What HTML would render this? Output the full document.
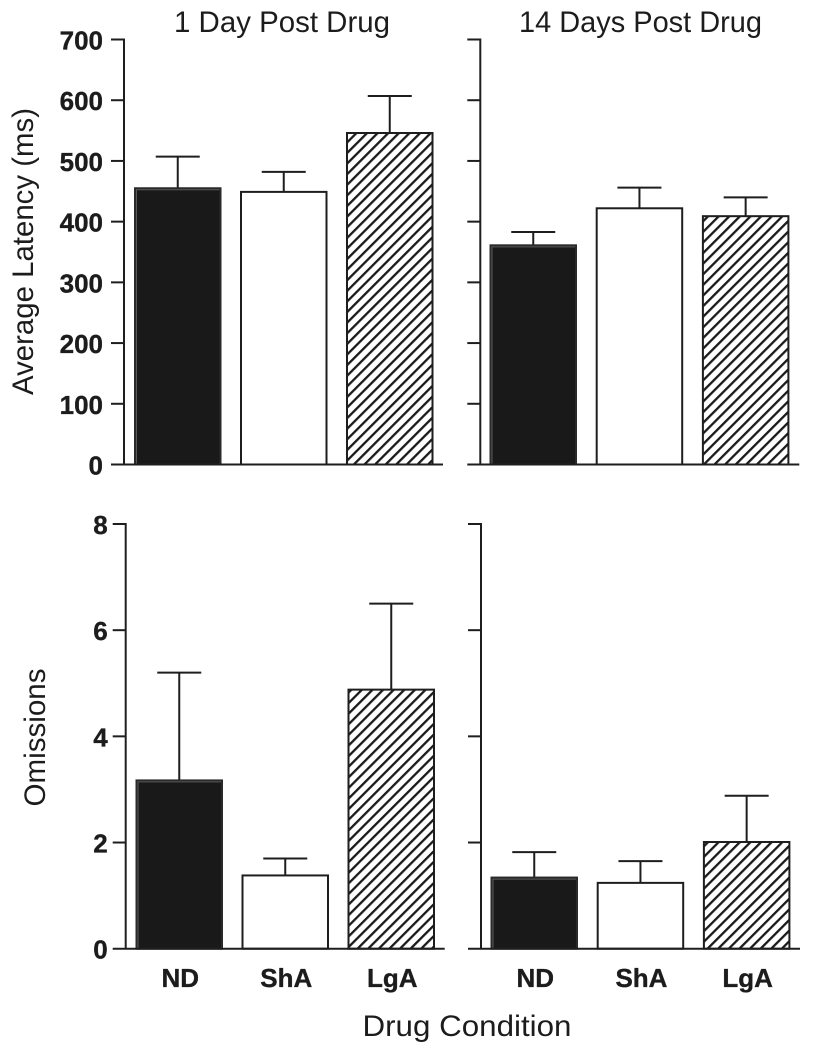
<!DOCTYPE html>
<html>
<head>
<meta charset="utf-8">
<title>Average latency and omissions by drug condition</title>
<style>
html,body{margin:0;padding:0;background:#fff;width:813px;height:1050px;overflow:hidden}
svg{display:block}
text{fill:#1c1c1c}
.tick{font:bold 26px "Liberation Sans",sans-serif;stroke:#1c1c1c;stroke-width:0.35px}
.title{font:30px "Liberation Sans",sans-serif}
</style>
</head>
<body>
<svg id="chart" xmlns="http://www.w3.org/2000/svg" width="813" height="1050" viewBox="0 0 813 1050">
<defs>
<pattern id="hatch" patternUnits="userSpaceOnUse" width="7.5" height="7.5" patternTransform="rotate(45)">
<rect width="7.5" height="7.5" fill="#fff"/>
<rect x="0" y="0" width="2.3" height="7.5" fill="#1a1a1a"/>
</pattern>
</defs>
</svg>
<script>
var categories = ['ND', 'ShA', 'LgA'];
var latencyTicks = [0, 100, 200, 300, 400, 500, 600, 700];
var omissionTicks = [0, 2, 4, 6, 8];
var latencyDay1Means = [455, 449, 546];
var latencyDay1Tops = [507, 482, 607];
var latencyDay14Means = [361, 422, 409];
var latencyDay14Tops = [383, 456, 440];
var omissionsDay1Means = [3.17, 1.38, 4.88];
var omissionsDay1Tops = [5.2, 1.7, 6.5];
var omissionsDay14Means = [1.34, 1.24, 2.01];
var omissionsDay14Tops = [1.82, 1.65, 2.88];

var NS = 'http://www.w3.org/2000/svg';
var svg = document.getElementById('chart');
var INK = '#1e1e1e';

function make(tag, attrs, parent) {
  var el = document.createElementNS(NS, tag);
  for (var k in attrs) { el.setAttribute(k, attrs[k]); }
  (parent || svg).appendChild(el);
  return el;
}
function line(x1, y1, x2, y2, parent, name) {
  var el = make('line', {x1: x1, y1: y1, x2: x2, y2: y2, stroke: INK, 'stroke-width': 2}, parent);
  
  
  return el;
}

function drawPanel(p) {
  var g = make('g', {});
  
  
  var yScale = function (v) { return p.y0 - (v / p.maxVal) * (p.y0 - p.yTop); };

  p.means.forEach(function (m, i) {
    var left = p.barLeft + i * p.barStep;
    var cx = left + p.barW / 2;
    line(cx, yScale(m), cx, yScale(p.tops[i]), g, 'error-bar-' + categories[i].toLowerCase());
    line(cx - 22, yScale(p.tops[i]), cx + 22, yScale(p.tops[i]), g, 'error-cap-' + categories[i].toLowerCase());
    var fill = i === 0 ? '#191919' : (i === 1 ? '#fff' : 'url(#hatch)');
    var r = make('rect', {x: left, y: yScale(m), width: p.barW, height: p.y0 - yScale(m), fill: fill,
      stroke: i === 0 ? '#2a2a2a' : INK, 'stroke-width': 2}, g);
    
    
    if (i === 0) {
      var hi = make('polyline', {points: (left + 1.5) + ',' + p.y0 + ' ' + (left + 1.5) + ',' + (yScale(m) + 1.5) + ' ' + (left + p.barW - 1) + ',' + (yScale(m) + 1.5),
        fill: 'none', stroke: '#5a5a5a', 'stroke-width': 1}, g);
      
      
    }
  });

  line(p.axisX, p.yTop - 1, p.axisX, p.y0, g, 'y-axis');
  line(p.axisX - 13, p.y0, p.axisX + 319, p.y0, g, 'x-axis');
  p.ticks.forEach(function (t) {
    var y = yScale(t);
    if (t !== 0) { line(p.axisX - 13, y, p.axisX, y, g, 'y-tick-' + t); }
    if (p.showTickLabels) {
      var lbl = make('text', {x: p.axisX - p.labelGap, y: y + 10, 'text-anchor': 'end', 'class': 'tick'}, g);
      
      
      lbl.textContent = t;
    }
  });
  if (p.showCategories) {
    categories.forEach(function (c, i) {
      var cx = p.barLeft + i * p.barStep + p.barW / 2 + 1;
      var lbl = make('text', {x: cx, y: 987, 'text-anchor': 'middle', 'class': 'tick'}, g);
      
      
      lbl.textContent = c;
    });
  }
}

function title(str, x, y, len, name, rotate) {
  var attrs = {x: x, y: y, 'class': 'title', textLength: len, lengthAdjust: 'spacingAndGlyphs'};
  if (rotate) { attrs.transform = 'rotate(-90 ' + x + ' ' + y + ')'; }
  var el = make('text', attrs);
  
  
  el.textContent = str;
}

drawPanel({name: 'latency-day-1-panel', means: latencyDay1Means, tops: latencyDay1Tops, ticks: latencyTicks, maxVal: 700,
  yTop: 39.5, y0: 464.5, axisX: 124, barLeft: 135, barStep: 106, barW: 85.5, showTickLabels: true, labelGap: 21, showCategories: false});
drawPanel({name: 'latency-day-14-panel', means: latencyDay14Means, tops: latencyDay14Tops, ticks: latencyTicks, maxVal: 700,
  yTop: 39.5, y0: 464.5, axisX: 480.3, barLeft: 490.5, barStep: 106.2, barW: 85.5, showTickLabels: false, showCategories: false});
drawPanel({name: 'omissions-day-1-panel', means: omissionsDay1Means, tops: omissionsDay1Tops, ticks: omissionTicks, maxVal: 8,
  yTop: 524, y0: 948.7, axisX: 125.7, barLeft: 136.5, barStep: 106, barW: 85.5, showTickLabels: true, labelGap: 18, showCategories: true});
drawPanel({name: 'omissions-day-14-panel', means: omissionsDay14Means, tops: omissionsDay14Tops, ticks: omissionTicks, maxVal: 8,
  yTop: 524, y0: 948.7, axisX: 481, barLeft: 491.5, barStep: 106.2, barW: 85.5, showTickLabels: false, showCategories: true});

title('1 Day Post Drug', 174, 32, 216, 'title-1-day-post-drug');
title('14 Days Post Drug', 519, 32, 243, 'title-14-days-post-drug');
title('Average Latency (ms)', 33, 395, 287, 'y-axis-title-latency', true);
title('Omissions', 45, 806.5, 138, 'y-axis-title-omissions', true);
title('Drug Condition', 362.5, 1036, 209, 'x-axis-title');
</script>
</body>
</html>
